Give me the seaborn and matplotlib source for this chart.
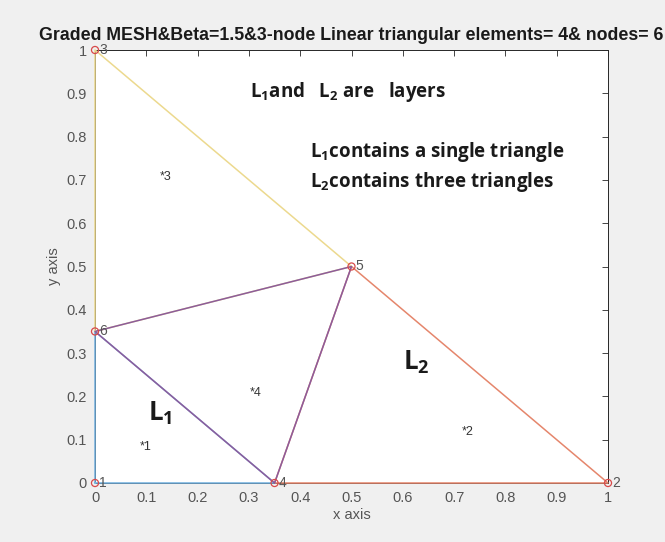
import matplotlib
matplotlib.use("Agg")
import matplotlib.pyplot as plt
import numpy as np
import pandas as pd
import seaborn as sns

# node coordinates (graded mesh, beta = 1.5)
node_x = [0.0, 1.0, 0.0, 0.35, 0.5, 0.0]
node_y = [0.0, 0.0, 1.0, 0.0, 0.5, 0.35]
node_ids = [1, 2, 3, 4, 5, 6]

# element connectivity (1-based node numbers)
elements = [[1, 4, 6], [4, 2, 5], [6, 5, 3], [4, 5, 6]]
elem_colors = ["#72b0de", "#e5866c", "#ecd98e", "#8c5c9c"]

# element label positions
elem_lab_x = [0.088, 0.715, 0.127, 0.302]
elem_lab_y = [0.084, 0.118, 0.707, 0.208]

ticks = [0, 0.1, 0.2, 0.3, 0.4, 0.5, 0.6, 0.7, 0.8, 0.9, 1]
tick_labels = ["0", "0.1", "0.2", "0.3", "0.4", "0.5", "0.6", "0.7", "0.8", "0.9", "1"]

title = "Graded MESH&Beta=1.5&3-node Linear triangular elements= 4& nodes= 6"


def main() -> None:
    sns.set_theme(style="white")
    plt.rcParams["font.family"] = ["Liberation Sans", "DejaVu Sans"]
    plt.rcParams["mathtext.fontset"] = "custom"
    plt.rcParams["mathtext.rm"] = "Open Sans:bold"
    plt.rcParams["mathtext.it"] = "Open Sans:bold"
    plt.rcParams["mathtext.bf"] = "Open Sans:bold"

    W, H = 665, 542
    fig = plt.figure(figsize=(W / 100, H / 100), dpi=100, facecolor="#f0f0f0")
    ax = fig.add_axes([95 / W, (H - 483) / H, 513 / W, 433 / H])
    ax.set_facecolor("white")

    # closed polygon per element
    rows = []
    for k, tri in enumerate(elements):
        for j, n in enumerate(tri + [tri[0]]):
            rows.append({"element": f"E{k + 1}", "order": j,
                         "x": node_x[n - 1], "y": node_y[n - 1]})
    edges = pd.DataFrame(rows)
    for k in range(len(elements)):
        d = edges[edges["element"] == f"E{k + 1}"]
        sns.lineplot(data=d, x="x", y="y", sort=False, estimator=None,
                     color=elem_colors[k], linewidth=1.1, ax=ax, legend=False,
                     zorder=3, clip_on=False)

    nodes = pd.DataFrame({"x": node_x, "y": node_y, "id": node_ids})
    sns.scatterplot(data=nodes, x="x", y="y", marker="o", s=26,
                    facecolors="none", edgecolor="#d84a4a", linewidth=0.9,
                    ax=ax, legend=False, zorder=5, clip_on=False)
    for xi, yi, i in zip(node_x, node_y, node_ids):
        ax.annotate(str(i), (xi, yi), xytext=(3, 0), textcoords="offset points",
                    ha="left", va="center", fontsize=10, color="#555555",
                    annotation_clip=False)

    for k, (xi, yi) in enumerate(zip(elem_lab_x, elem_lab_y)):
        ax.text(xi, yi, f"*{k + 1}", ha="left", va="center", fontsize=9,
                color="#333333")

    txt = dict(color="#1a1a1a", family="Open Sans", fontweight="bold",
               ha="left", va="center")
    ax.text(0.303, 0.904, r"L$_1$and   L$_2$ are   layers", fontsize=13.5, **txt)
    ax.text(0.419, 0.765, r"L$_1$contains a single triangle", fontsize=13.5, **txt)
    ax.text(0.419, 0.696, r"L$_2$contains three triangles", fontsize=13.5, **txt)
    ax.text(0.103, 0.162, r"L$_1$", fontsize=18.5, **txt)
    ax.text(0.600, 0.279, r"L$_2$", fontsize=18.5, **txt)

    ax.set_xlim(0, 1)
    ax.set_ylim(0, 1)
    ax.set_xticks(ticks)
    ax.set_yticks(ticks)
    ax.set_xticklabels(tick_labels)
    ax.set_yticklabels(tick_labels)
    ax.tick_params(direction="in", length=4, width=0.6, colors="#262626",
                   labelcolor="#555555", labelsize=10.5, top=True, right=True,
                   pad=6)
    for s in ax.spines.values():
        s.set_color("#262626")
        s.set_linewidth(0.7)

    ax.set_xlabel("x axis", fontsize=10.5, color="#555555", labelpad=2)
    ax.set_ylabel("y axis", fontsize=10.5, color="#555555", labelpad=4)
    ax.set_title(title, fontsize=12.8, fontweight="bold", color="#1a1a1a", pad=7)

    fig.savefig("out.png", dpi=100, facecolor=fig.get_facecolor())
    plt.close(fig)


if __name__ == "__main__":
    main()
